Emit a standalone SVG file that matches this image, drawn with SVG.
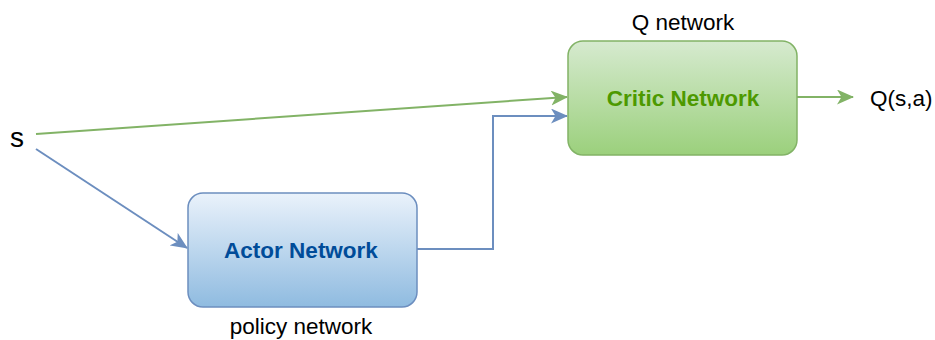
<svg xmlns="http://www.w3.org/2000/svg" width="935" height="340" viewBox="0 0 935 340">
  <style>
    .label { font-family: "Liberation Sans", Arial, sans-serif; font-size: 22.5px; fill: #000; }
    .title { font-family: "Liberation Sans", Arial, sans-serif; font-size: 22.5px; font-weight: bold; text-anchor: middle; }
    .edge { fill: none; stroke-width: 2; }
    .green { stroke: #82b366; }
    .blue { stroke: #6c8ebf; }
  </style>
  <defs>
    <linearGradient id="actorFill" x1="0" y1="0" x2="0" y2="1">
      <stop offset="0" stop-color="#eaf2fb"/>
      <stop offset="1" stop-color="#8fbbe0"/>
    </linearGradient>
    <linearGradient id="criticFill" x1="0" y1="0" x2="0" y2="1">
      <stop offset="0" stop-color="#d6eacf"/>
      <stop offset="1" stop-color="#9bd07c"/>
    </linearGradient>
    <marker id="arrowGreen" viewBox="0 0 17 15" refX="16" refY="7.5" markerWidth="17" markerHeight="15" markerUnits="userSpaceOnUse" orient="auto">
      <path d="M0,0 L17,7.5 L0,15 L4.5,7.5 Z" fill="#82b366"/>
    </marker>
    <marker id="arrowBlue" viewBox="0 0 17 15" refX="16" refY="7.5" markerWidth="17" markerHeight="15" markerUnits="userSpaceOnUse" orient="auto">
      <path d="M0,0 L17,7.5 L0,15 L4.5,7.5 Z" fill="#6c8ebf"/>
    </marker>
  </defs>

  <g id="connectors">
    <line class="edge green" x1="36" y1="134" x2="567" y2="97" marker-end="url(#arrowGreen)"/>
    <line class="edge blue" x1="36" y1="149" x2="187" y2="248" marker-end="url(#arrowBlue)"/>
    <polyline class="edge blue" points="417,249 493,249 493,116 567,116" marker-end="url(#arrowBlue)"/>
    <line class="edge green" x1="797" y1="97" x2="853" y2="97" marker-end="url(#arrowGreen)"/>
  </g>

  <g id="state">
    <text x="10" y="147" style="font-family: 'Liberation Sans', Arial, sans-serif; font-size: 28px;">s</text>
  </g>

  <g id="actor">
    <rect x="188" y="193" width="229" height="114" rx="15" fill="url(#actorFill)" stroke="#6c8ebf" stroke-width="1.5"/>
    <text class="title" x="301" y="258" fill="#004c99">Actor Network</text>
    <text class="label" x="301" y="334" text-anchor="middle">policy network</text>
  </g>

  <g id="critic">
    <rect x="568" y="41" width="229" height="114" rx="15" fill="url(#criticFill)" stroke="#82b366" stroke-width="1.5"/>
    <text class="title" x="683" y="106" fill="#4d9900">Critic Network</text>
    <text class="label" x="683" y="30" text-anchor="middle">Q network</text>
  </g>

  <g id="output">
    <text class="label" x="870" y="106">Q(s,a)</text>
  </g>
</svg>
